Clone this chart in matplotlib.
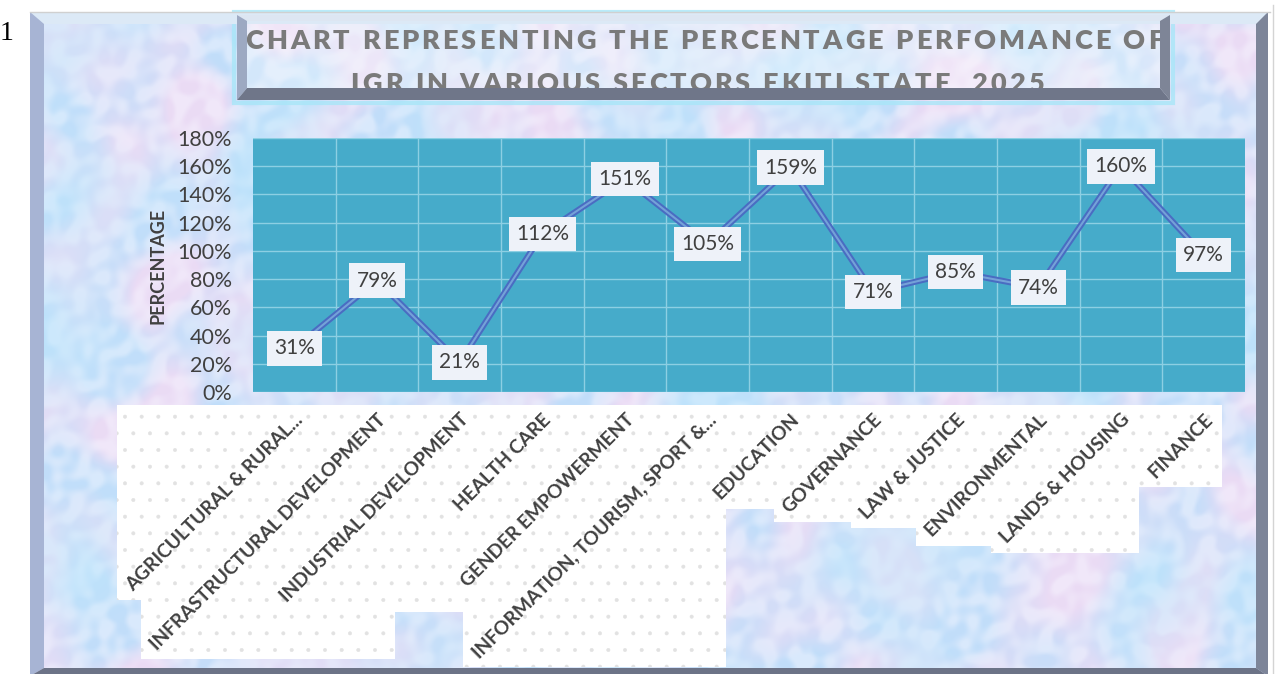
import numpy as np
import matplotlib
matplotlib.use("Agg")
import matplotlib.pyplot as plt
import matplotlib.transforms as mtransforms
from matplotlib.patches import Rectangle, Polygon
from matplotlib.font_manager import FontProperties
from matplotlib.textpath import text_to_path

W, H = 1281, 674

sectors = ["AGRICULTURAL & RURAL...", "INFRASTRUCTURAL DEVELOPMENT",
           "INDUSTRIAL DEVELOPMENT", "HEALTH CARE", "GENDER EMPOWERMENT",
           "INFORMATION, TOURISM, SPORT &...", "EDUCATION", "GOVERNANCE",
           "LAW & JUSTICE", "ENVIRONMENTAL", "LANDS & HOUSING", "FINANCE"]
performance = [31, 79, 21, 112, 151, 105, 159, 71, 85, 74, 160, 97]
y_ticks = [0, 20, 40, 60, 80, 100, 120, 140, 160, 180]
title_lines = ["CHART REPRESENTING THE PERCENTAGE PERFOMANCE OF",
               "IGR IN VARIOUS SECTORS EKITI STATE  2025"]
y_title = "PERCENTAGE"

plt.rcParams['font.family'] = ['Lato', 'DejaVu Sans']
plt.rcParams['hatch.linewidth'] = 0.4

fig = plt.figure(figsize=(W / 100, H / 100), dpi=100)
fig.patch.set_facecolor('white')

# background axes in pixel coordinates
bg = fig.add_axes([0, 0, 1, 1], zorder=0)
bg.set_xlim(0, W)
bg.set_ylim(H, 0)
bg.axis('off')


# marbled light blue / pink texture built from a few fixed waves
def waves(xx, yy, scale, angles):
    out = np.zeros_like(xx)
    for k, ang in enumerate(angles):
        u = xx * np.cos(ang) + yy * np.sin(ang)
        v = -xx * np.sin(ang) + yy * np.cos(ang)
        out += np.sin(u / (scale * (1 + 0.37 * k)) + 1.5 * np.sin(v / (scale * 1.9)) + k * 1.3)
    return out / len(angles)


yy, xx = np.mgrid[0:H:2, 0:W:2].astype(float)
big = waves(xx, yy, 16.0, [0.3, 1.4, 2.2, 2.9, 4.1])
fine = waves(xx, yy, 3.5, [0.7, 1.9, 2.6, 3.7, 5.0, 5.8])
a = np.clip(big * 1.4 + 0.5, 0, 1)
b = np.clip(fine * 1.5 + 0.5, 0, 1)
blue = np.array([0.76, 0.87, 0.98])
pink = np.array([0.92, 0.86, 0.96])
cyan = np.array([0.72, 0.91, 0.99])
white = np.array([0.97, 0.97, 1.0])
img = blue * (1 - a[..., None]) + pink * a[..., None]
img = img * (1 - 0.45 * b[..., None]) + white * 0.45 * b[..., None]
cmix = np.clip(waves(xx, yy, 30.0, [0.9, 2.4, 3.3]) * 1.2 + 0.3, 0, 1)
img = img * (1 - 0.4 * cmix[..., None]) + cyan * 0.4 * cmix[..., None]
bg.imshow(img, extent=(30, 1268, 674, 12), aspect='auto', zorder=1, interpolation='bilinear')


def bevel(x0, y0, x1, y1, bl, bt, br, bb, cols, z):
    left = [(x0, y0), (x0 + bl, y0 + bt), (x0 + bl, y1 - bb), (x0, y1)]
    top = [(x0, y0), (x1, y0), (x1 - br, y0 + bt), (x0 + bl, y0 + bt)]
    right = [(x1, y0), (x1, y1), (x1 - br, y1 - bb), (x1 - br, y0 + bt)]
    bottom = [(x0, y1), (x1, y1), (x1 - br, y1 - bb), (x0 + bl, y1 - bb)]
    for pts, col in zip([top, left, right, bottom], cols):
        bg.add_patch(Polygon(pts, closed=True, facecolor=col, edgecolor='none', zorder=z))


# outer frame
bevel(30, 12, 1268, 676, 14, 12, 12, 8,
      ['#dce9f6', '#a7b4d4', '#7d8599', '#6c7387'], 3)
bg.plot([30, 1270], [12, 12], color='#d0d0d0', lw=1, zorder=4)
bg.plot([1273, 1273], [5, 674], color='#d4d4d4', lw=1, zorder=4)
fig.text(0, 1 - 33 / H, "1", family=['Liberation Serif', 'DejaVu Serif'],
         fontsize=20, color='black', va='center', ha='left')

# title box
bg.add_patch(Rectangle((234, 12), 939, 91, facecolor='none', edgecolor='#a8e6f8',
                       lw=3, alpha=0.8, zorder=2))
bg.add_patch(Rectangle((237, 15), 933, 85, facecolor='white', alpha=0.3, zorder=2))
bevel(237, 15, 1170, 100, 10, 6, 10, 12,
      ['#dde6f2', '#9da9c2', '#7e8597', '#6f7689'], 6)

fp_title = FontProperties(family='Lato', weight='heavy', size=19.5)
px = 100 / 72


def text_width(s):
    if not s:
        return 0.0
    return text_to_path.get_text_width_height_descent(s, fp_title, ismath=False)[0] * px


full_w = text_width(title_lines[0])
spacing = (918 - full_w) / (len(title_lines[0]) - 1)
for line, (cx, base) in zip(title_lines, [(704, 49), (697, 92)]):
    total = text_width(line) + spacing * (len(line) - 1)
    x0 = cx - total / 2
    for i, ch in enumerate(line):
        bg.text(x0 + text_width(line[:i]) + spacing * i, base, ch,
                fontproperties=fp_title, color='#7a7a7a',
                ha='left', va='baseline', zorder=5)

# y axis title
bg.text(158, 266, y_title, rotation=90, ha='center', va='center',
        fontsize=13, fontweight='bold', color='#404040', zorder=5)

# plot area
ax = fig.add_axes([253 / W, 1 - 392 / H, (1245 - 253) / W, (392 - 138) / H], zorder=2)
ax.set_facecolor('#46abca')
x = np.arange(len(sectors))
ax.set_xlim(-0.5, len(sectors) - 0.5)
ax.set_ylim(0, 180)
ax.set_yticks(y_ticks)
ax.set_yticklabels([f"{v}%" for v in y_ticks], fontsize=15.5, color='#404040')
ax.set_xticks(x)
ax.set_xticklabels(sectors, rotation=45, ha='right', va='center',
                   rotation_mode='anchor', fontsize=13.8, fontweight='bold', color='#404040')
ax.set_xticks(x[:-1] + 0.5, minor=True)
ax.tick_params(axis='both', which='both', length=0)
ax.tick_params(axis='y', pad=15)
offset = mtransforms.ScaledTranslation(6 / 100, -20 / 100, fig.dpi_scale_trans)
for lbl in ax.get_xticklabels():
    lbl.set_transform(lbl.get_transform() + offset)
ax.grid(True, axis='y', which='major', color='#8dcfe3', lw=1)
ax.grid(True, axis='x', which='minor', color='#8dcfe3', lw=1)
ax.grid(False, axis='x', which='major')
ax.set_axisbelow(True)
for sp in ax.spines.values():
    sp.set_visible(False)

# double (compound) line
ax.plot(x, performance, color='#4a6cc2', lw=4.4, solid_capstyle='butt', zorder=3)
ax.plot(x, performance, color='#74a2d8', lw=1.5, solid_capstyle='butt', zorder=4)
for xi, v in zip(x, performance):
    ax.text(xi, v, f"{v}%", ha='center', va='center', fontsize=15, color='#404040',
            zorder=5, bbox=dict(boxstyle='square,pad=0.35', facecolor='#eef2f9',
                                edgecolor='none'))

# white dotted boxes behind the category labels
fig.canvas.draw()
renderer = fig.canvas.get_renderer()
pad = 6
for lbl in ax.get_xticklabels():
    bb = lbl.get_window_extent(renderer)
    bg.add_patch(Rectangle((bb.x0 - pad, H - bb.y1 - pad), bb.width + 2 * pad,
                           bb.height + 2 * pad, facecolor='white', edgecolor='#e2e2e2',
                           lw=0, hatch='.', zorder=2.5))

fig.savefig('out.png', dpi=100)
